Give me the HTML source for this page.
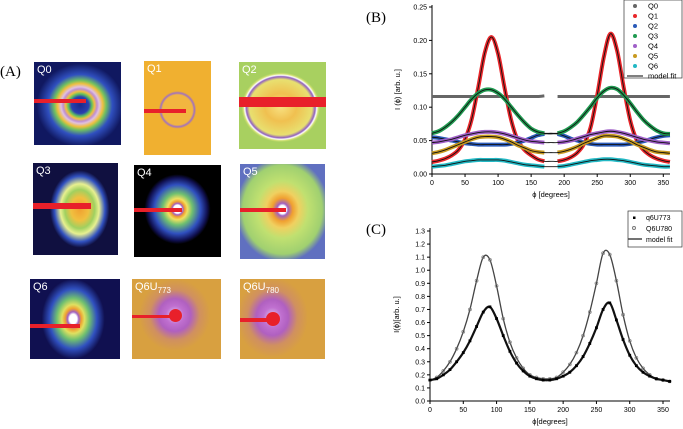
<!DOCTYPE html>
<html><head><meta charset="utf-8"><style>
body{margin:0;background:#fff;width:683px;height:429px;overflow:hidden;position:relative;font-family:"Liberation Sans",sans-serif}
.img{position:absolute;overflow:hidden}
.img span{position:absolute;left:3px;top:2px;color:#fff;font-size:11px}
.bar{position:absolute;background:#e8202a}
.lbl{position:absolute;font-family:"Liberation Serif",serif;font-size:15px}
</style></head><body>
<div class="lbl" style="left:0;top:64px">(A)</div>
<div class="lbl" style="left:366px;top:10px">(B)</div>
<div class="lbl" style="left:366px;top:222px">(C)</div>

<div class="img" style="left:34px;top:62px;width:87px;height:83px;background:radial-gradient(ellipse 50% 50% at 53% 52%,#1a2a8a 0%,#2a40b0 20%,#60c060 27%,#f0c040 33%,#c090d0 39%,#e0c0e0 44%,#f0c040 52%,#70c060 60%,#3050c0 74%,#101860 100%)"><span>Q0</span><div class="bar" style="left:0;top:37px;width:52px;height:4px"></div></div>
<div class="img" style="left:144px;top:61px;width:67px;height:94px;background:radial-gradient(ellipse 28% 20% at 50% 52%,#f2b640 80%,#a070c0 90%,#f0b030 100%),#f3b535"><span>Q1</span><div class="bar" style="left:0;top:48px;width:42px;height:4px"></div></div>
<div class="img" style="left:239px;top:62px;width:87px;height:87px;background:radial-gradient(ellipse 45% 40% at 48% 52%,#f8e080 0%,#f0c050 40%,#e8e070 80%,#9060c0 88%,#ffffff 92%,#d0e070 96%,#a8d060 100%)"><span>Q2</span><div class="bar" style="left:0;top:35px;width:87px;height:10px"></div></div>

<div class="img" style="left:33px;top:163px;width:85px;height:92px;background:radial-gradient(ellipse 35% 42% at 55% 50%,#f0a030 0%,#f0c040 30%,#a0d060 50%,#e8f090 65%,#3050c0 85%,#101040 100%),#0a0a30"><span>Q3</span><div class="bar" style="left:0;top:40px;width:58px;height:6px"></div></div>
<div class="img" style="left:134px;top:165px;width:87px;height:92px;background:radial-gradient(ellipse 38% 38% at 50% 48%,#fff 0%,#fff 12%,#a060c0 16%,#f0a030 22%,#f0e060 30%,#70c070 45%,#3050c0 70%,#101050 90%,#000 100%),#000"><span>Q4</span><div class="bar" style="left:0;top:43px;width:48px;height:4px"></div></div>
<div class="img" style="left:240px;top:164px;width:85px;height:95px;background:radial-gradient(ellipse 55% 55% at 50% 48%,#fff 0%,#fff 8%,#a060c0 12%,#f0a030 22%,#f0d060 35%,#c0e070 55%,#a0d070 85%,#6070c0 100%)"><span>Q5</span><div class="bar" style="left:0;top:44px;width:46px;height:4px"></div></div>

<div class="img" style="left:30px;top:279px;width:90px;height:80px;background:radial-gradient(ellipse 35% 50% at 48% 50%,#fff 0%,#fff 12%,#a060c0 18%,#f0a030 26%,#e0e060 36%,#70c070 52%,#3050c0 75%,#101050 100%),#0a0a30"><span>Q6</span><div class="bar" style="left:0;top:45px;width:50px;height:4px"></div></div>
<div class="img" style="left:132px;top:279px;width:89px;height:80px;background:radial-gradient(ellipse 40% 45% at 48% 45%,#e0d0f0 0%,#c070d0 25%,#b060c0 45%,#d09060 70%,#d8a040 100%),#d09a40"><span>Q6U<sub style="font-size:8px">773</sub></span><div class="bar" style="left:0;top:36px;width:40px;height:3px"></div><div class="bar" style="left:37px;top:30px;width:13px;height:13px;border-radius:50%"></div></div>
<div class="img" style="left:240px;top:279px;width:85px;height:80px;background:radial-gradient(ellipse 42% 50% at 38% 48%,#e0d0f0 0%,#c070d0 25%,#b060c0 45%,#d09060 70%,#d8a040 100%),#d09a40"><span>Q6U<sub style="font-size:8px">780</sub></span><div class="bar" style="left:0;top:39px;width:30px;height:4px"></div><div class="bar" style="left:26px;top:33px;width:14px;height:14px;border-radius:50%"></div></div>

<svg id="svg" width="683" height="429" style="position:absolute;left:0;top:0" font-family="Liberation Sans, sans-serif"></svg>
<script>
const xTicks=[0,50,100,150,200,250,300,350];
const bTicks=[0,0.05,0.10,0.15,0.20,0.25];
const bTickLabels=["0.00","0.05","0.10","0.15","0.20","0.25"];
const cTicks=[0,0.1,0.2,0.3,0.4,0.5,0.6,0.7,0.8,0.9,1.0,1.1,1.2,1.3];
const cTickLabels=["0.0","0.1","0.2","0.3","0.4","0.5","0.6","0.7","0.8","0.9","1.0","1.1","1.2","1.3"];
const phi=[0,10,20,30,40,50,60,70,80,90,100,110,120,130,140,150,160,170,180,190,200,210,220,230,240,250,260,270,280,290,300,310,320,330,340,350,360];
const bNames=["Q0","Q1","Q2","Q3","Q4","Q5","Q6"];
const bColors=["#666666","#e8262a","#2a5ab8","#1f9a50","#a060c8","#c89a20","#22b8c4"];
const q0=[0.116,0.116,0.116,0.116,0.116,0.116,0.116,0.116,0.116,0.116,0.116,0.116,0.116,0.116,0.116,0.116,0.116,0.117,null,0.116,0.116,0.116,0.116,0.116,0.116,0.116,0.116,0.116,0.116,0.116,0.116,0.116,0.116,0.116,0.116,0.116,0.116];
const q1=[0.018,0.020,0.023,0.028,0.036,0.052,0.082,0.130,0.182,0.205,0.180,0.128,0.080,0.050,0.036,0.028,0.022,0.019,null,0.019,0.021,0.025,0.032,0.045,0.070,0.118,0.175,0.210,0.185,0.130,0.080,0.050,0.036,0.028,0.023,0.020,0.018];
const q2=[0.055,0.054,0.052,0.050,0.048,0.046,0.045,0.044,0.044,0.044,0.044,0.044,0.045,0.047,0.050,0.054,0.058,0.060,null,0.060,0.057,0.053,0.050,0.047,0.045,0.044,0.044,0.044,0.044,0.044,0.045,0.047,0.049,0.052,0.055,0.057,0.058];
const q3=[0.061,0.064,0.070,0.078,0.088,0.100,0.112,0.121,0.126,0.126,0.121,0.112,0.100,0.088,0.077,0.068,0.063,0.061,null,0.061,0.064,0.070,0.078,0.089,0.101,0.114,0.124,0.129,0.127,0.118,0.106,0.093,0.081,0.072,0.065,0.061,0.060];
const q4=[0.047,0.048,0.050,0.052,0.055,0.058,0.060,0.062,0.063,0.063,0.062,0.060,0.057,0.054,0.051,0.049,0.048,0.047,null,0.047,0.048,0.050,0.053,0.056,0.059,0.061,0.063,0.064,0.063,0.061,0.058,0.055,0.052,0.050,0.048,0.047,0.046];
const q5=[0.031,0.033,0.036,0.040,0.044,0.048,0.052,0.055,0.056,0.056,0.055,0.052,0.048,0.043,0.039,0.035,0.033,0.032,null,0.032,0.034,0.037,0.041,0.046,0.050,0.054,0.057,0.057,0.056,0.053,0.049,0.044,0.040,0.036,0.033,0.032,0.031];
const q6=[0.011,0.012,0.013,0.015,0.017,0.019,0.020,0.021,0.021,0.021,0.021,0.020,0.018,0.016,0.014,0.013,0.012,0.011,null,0.011,0.012,0.014,0.016,0.018,0.020,0.021,0.022,0.022,0.021,0.020,0.018,0.016,0.014,0.013,0.012,0.011,0.011];
const cNames=["q6U773","Q6U780"];
const c773=[0.16,0.17,0.20,0.24,0.30,0.37,0.46,0.57,0.68,0.72,0.63,0.50,0.38,0.29,0.23,0.19,0.17,0.16,0.16,0.17,0.19,0.22,0.27,0.34,0.44,0.56,0.70,0.75,0.62,0.47,0.35,0.27,0.22,0.19,0.17,0.16,0.15];
const c780=[0.16,0.18,0.23,0.30,0.40,0.53,0.70,0.92,1.10,1.08,0.88,0.63,0.45,0.33,0.25,0.20,0.18,0.17,0.17,0.18,0.22,0.28,0.37,0.50,0.68,0.90,1.13,1.12,0.92,0.66,0.46,0.33,0.25,0.20,0.17,0.16,0.15];

const S=document.getElementById('svg');const NS="http://www.w3.org/2000/svg";
function mk(t,a,p){const e=document.createElementNS(NS,t);for(const k in a)e.setAttribute(k,a[k]);(p||S).appendChild(e);return e;}
function smooth(pts){let d="";let seg=[];const segs=[];pts.forEach(p=>{if(p)seg.push(p);else{if(seg.length)segs.push(seg);seg=[];}});if(seg.length)segs.push(seg);
segs.forEach(s=>{d+="M"+s[0][0]+","+s[0][1];for(let i=0;i<s.length-1;i++){const p0=s[i-1]||s[i],p1=s[i],p2=s[i+1],p3=s[i+2]||s[i+1];
d+=" C"+(p1[0]+(p2[0]-p0[0])/6)+","+(p1[1]+(p2[1]-p0[1])/6)+" "+(p2[0]-(p3[0]-p1[0])/6)+","+(p2[1]-(p3[1]-p1[1])/6)+" "+p2[0]+","+p2[1];}});return d;}

function axes(g,xs,ys,x0,x1,y0,y1,yt,ytl,ylab,xlab,ylx){
 const ax=mk('g',{},g);
 mk('line',{x1:x0,y1:y0,x2:x0,y2:y1,stroke:'#000','stroke-width':1},ax);
 mk('line',{x1:x0,y1:y0,x2:x1,y2:y0,stroke:'#000','stroke-width':1},ax);
 xTicks.forEach(v=>{const x=xs(v);mk('line',{x1:x,y1:y0,x2:x,y2:y0+3,stroke:'#000'},ax);const t=mk('text',{x:x,y:y0+11,'font-size':7,'text-anchor':'middle'},ax);t.textContent=v;});
 yt.forEach((v,i)=>{const y=ys(v);mk('line',{x1:x0-3,y1:y,x2:x0,y2:y,stroke:'#000'},ax);const t=mk('text',{x:x0-5,y:y+2.5,'font-size':7,'text-anchor':'end'},ax);t.textContent=ytl[i];});
 const yl=mk('text',{x:ylx,y:(y0+y1)/2,'font-size':7.5,'text-anchor':'middle',transform:`rotate(-90 ${ylx} ${(y0+y1)/2})`},ax);yl.textContent=ylab;
 const xl=mk('text',{x:(x0+x1)/2,y:y0+23,'font-size':7.5,'text-anchor':'middle'},ax);xl.textContent=xlab;
}
// Chart B
const bx=v=>432+v*(231.3/350), by=v=>174-v*(167/0.25);
const gB=mk('g',{});
axes(gB,bx,by,432,670,174,5,bTicks,bTickLabels,"I (ϕ) [arb. u.]","ϕ [degrees]",400);
const bSeries=[q0,q1,q2,q3,q4,q5,q6];
bSeries.forEach((s,k)=>{
 const pts=phi.map((p,i)=>s[i]==null?null:[bx(p),by(s[i])]);
 const band=mk('path',{d:smooth(pts),fill:'none',stroke:bColors[k],'stroke-width':k==0?3:4},gB);
 
 
 if(k>0){const f=mk('path',{d:smooth(phi.map((p,i)=>s[i]==null?[bx(p),by((s[i-1]+s[i+1])/2)]:[bx(p),by(s[i])])),fill:'none',stroke:'#111','stroke-width':0.9},gB);
 
 }
});
const lgB=mk('g',{},gB);
mk('rect',{x:624,y:0,width:58,height:78,fill:'#fff',stroke:'#333','stroke-width':0.7},lgB);
bNames.concat(["model fit"]).forEach((n,i)=>{const y=6+i*10;
 if(i<7)mk('circle',{cx:635,cy:y,r:2,fill:bColors[i]},lgB);else mk('line',{x1:627,y1:y,x2:643,y2:y,stroke:'#000','stroke-width':1},lgB);
 const t=mk('text',{x:648,y:y+2.5,'font-size':7.5},lgB);t.textContent=n;});

// Chart C
const cx=v=>430+v*(233/350), cy=v=>401-v*(170/1.3);
const gC=mk('g',{});
axes(gC,cx,cy,430,670,401,228,cTicks,cTickLabels,"I(ϕ)[arb. u.]","ϕ[degrees]",399);
[c780,c773].forEach((s,k)=>{
 const pts=phi.map((p,i)=>[cx(p),cy(s[i])]);
 const l=mk('path',{d:smooth(pts),fill:'none',stroke:k==0?'#444':'#111','stroke-width':k==0?1.3:2.2},gC);
 
 
 pts.forEach(p=>{let m;if(k==0){m=mk('circle',{cx:p[0],cy:p[1],r:1.5,fill:'none',stroke:'#777','stroke-width':0.6},gC);}else{m=mk('rect',{x:p[0]-1.4,y:p[1]-1.4,width:2.8,height:2.8,fill:'#000'},gC);}
 
 });
});
const lgC=mk('g',{},gC);
mk('rect',{x:628,y:211,width:54,height:36,fill:'#fff',stroke:'#333','stroke-width':0.7},lgC);
mk('rect',{x:633,y:216.5,width:2.5,height:2.5,fill:'#000'},lgC);
mk('circle',{cx:634,cy:228,r:1.5,fill:'none',stroke:'#777'},lgC);
mk('line',{x1:628,y1:239,x2:642,y2:239,stroke:'#444','stroke-width':1.5},lgC);
["q6U773","Q6U780","model fit"].forEach((n,i)=>{const t=mk('text',{x:646,y:220+i*11,'font-size':7},lgC);t.textContent=n;});
</script>
</body></html>
